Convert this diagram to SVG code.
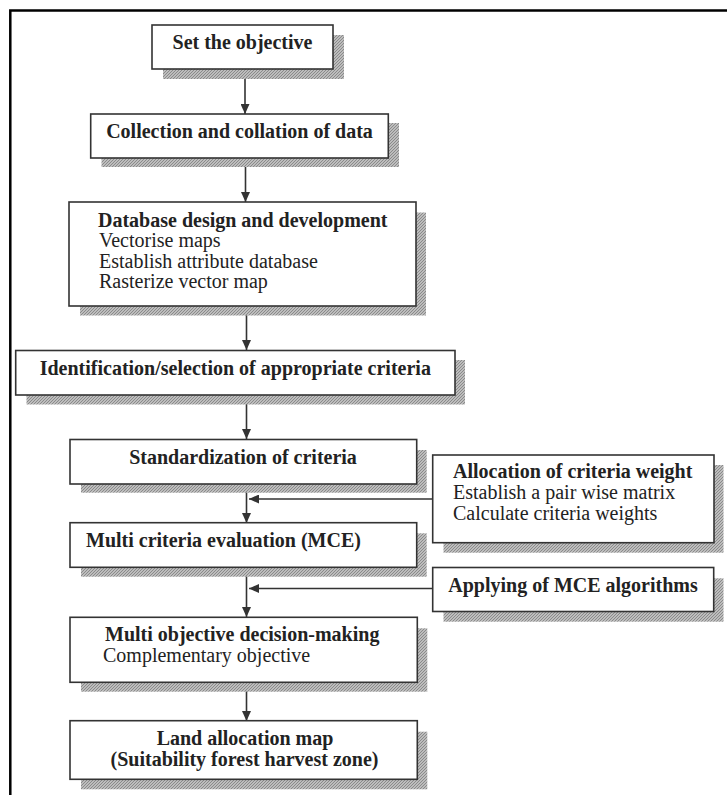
<svg xmlns="http://www.w3.org/2000/svg" width="727" height="795" viewBox="0 0 727 795">
<style>
.frame{stroke:#000;stroke-width:2.5;fill:none}
.shadow{fill:url(#hatch);stroke:none}
.box{fill:#fff;stroke:#333;stroke-width:1.6}
.t{font-family:"Liberation Serif","Times New Roman",serif;font-size:20px;fill:#222}
.b{font-weight:bold}
.c{text-anchor:middle}
.edge{stroke:#333;stroke-width:1.6;fill:none;marker-end:url(#ah)}
</style>
<defs>
<pattern id="hatch" patternUnits="userSpaceOnUse" width="3" height="3">
<rect width="3" height="3" fill="#bdbdbd"/>
<path d="M0,3 L3,0" stroke="#8a8a8a" stroke-width="1"/>
</pattern>
<marker id="ah" markerUnits="userSpaceOnUse" markerWidth="10" markerHeight="9" refX="10" refY="4.5" orient="auto">
<path d="M0,0 L10,4.5 L0,9 z" fill="#333"/>
</marker>
</defs>
<rect width="727" height="795" fill="#fff"/>
<path class="frame" d="M10.3,795 L10.3,10.5 L727,10.5"/>

<g id="connectors">
<line class="edge" x1="245" y1="69" x2="245" y2="114"/>
<line class="edge" x1="245.5" y1="158" x2="245.5" y2="202"/>
<line class="edge" x1="246.5" y1="306" x2="246.5" y2="350"/>
<line class="edge" x1="246.5" y1="395" x2="246.5" y2="439"/>
<line class="edge" x1="246.5" y1="484" x2="246.5" y2="523"/>
<line class="edge" x1="432.7" y1="499" x2="249" y2="499"/>
<line class="edge" x1="246.5" y1="567" x2="246.5" y2="617"/>
<line class="edge" x1="432.7" y1="588.5" x2="249" y2="588.5"/>
<line class="edge" x1="246.5" y1="682" x2="246.5" y2="721"/>
</g>

<g id="n1">
<rect class="shadow" x="163" y="35" width="181" height="44"/>
<rect class="box" x="152" y="25" width="181" height="44"/>
<text class="t b c" x="242.5" y="49">Set the objective</text>
</g>
<g id="n2">
<rect class="shadow" x="101.5" y="123" width="297.5" height="44"/>
<rect class="box" x="90.7" y="114" width="297.6" height="44"/>
<text class="t b c" x="239.5" y="137.5">Collection and collation of data</text>
</g>
<g id="n3">
<rect class="shadow" x="80" y="212.5" width="346" height="103"/>
<rect class="box" x="69" y="202" width="347" height="104"/>
<text class="t b" x="98" y="226.7">Database design and development</text>
<text class="t" x="99" y="247">Vectorise maps</text>
<text class="t" x="99" y="267.5">Establish attribute database</text>
<text class="t" x="99" y="288.3">Rasterize vector map</text>
</g>
<g id="n4">
<rect class="shadow" x="26.5" y="360" width="438.5" height="44.5"/>
<rect class="box" x="15.7" y="350.5" width="439.3" height="44.5"/>
<text class="t b c" x="235.3" y="375">Identification/selection of appropriate criteria</text>
</g>
<g id="n5">
<rect class="shadow" x="81" y="450" width="345.7" height="42.7"/>
<rect class="box" x="70" y="439.5" width="346.7" height="44.5"/>
<text class="t b c" x="243" y="463.5">Standardization of criteria</text>
</g>
<g id="n6">
<rect class="shadow" x="443.5" y="465" width="280" height="87.7"/>
<rect class="box" x="432.7" y="455" width="281.3" height="87.7"/>
<text class="t b" x="453" y="478.3">Allocation of criteria weight</text>
<text class="t" x="453" y="499.3">Establish a pair wise matrix</text>
<text class="t" x="453" y="520">Calculate criteria weights</text>
</g>
<g id="n7">
<rect class="shadow" x="81" y="533.3" width="345.7" height="43.4"/>
<rect class="box" x="70" y="522.7" width="346.7" height="44.6"/>
<text class="t b" x="86" y="547">Multi criteria evaluation (MCE)</text>
</g>
<g id="n8">
<rect class="shadow" x="443.5" y="578.3" width="280" height="43.4"/>
<rect class="box" x="432.7" y="567.5" width="281" height="44"/>
<text class="t b" x="448.3" y="591.7">Applying of MCE algorithms</text>
</g>
<g id="n9">
<rect class="shadow" x="81" y="628.3" width="346.3" height="63.4"/>
<rect class="box" x="70" y="617.3" width="347.3" height="65"/>
<text class="t b" x="105" y="641">Multi objective decision-making</text>
<text class="t" x="103" y="662">Complementary objective</text>
</g>
<g id="n10">
<rect class="shadow" x="81" y="731.7" width="346.3" height="57.6"/>
<rect class="box" x="70" y="720.7" width="347.3" height="58.6"/>
<text class="t b c" x="245" y="744.8">Land allocation map</text>
<text class="t b c" x="244.5" y="766">(Suitability forest harvest zone)</text>
</g>
</svg>
